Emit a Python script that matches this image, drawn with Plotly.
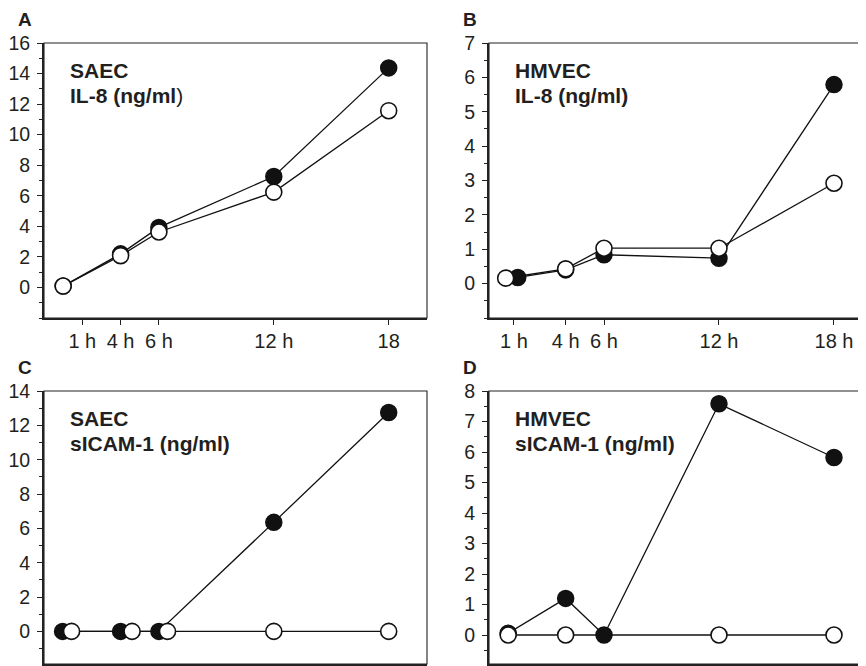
import plotly.graph_objects as go

W, H = 866, 666
OFF = 8  # page body margin offset of the figure in the browser window
FONT = "Liberation Sans, Arial, sans-serif"
TXT = "#231f20"

# ---------------- data ----------------
# Panel A: SAEC IL-8 (ng/ml)
a_x_filled = [1, 4, 6, 12, 18]
a_y_filled = [0.09, 2.2, 3.93, 7.26, 14.37]
a_x_open = [1, 4, 6, 12, 18]
a_y_open = [0.09, 2.08, 3.63, 6.24, 11.57]

# Panel B: HMVEC IL-8 (ng/ml)
b_x_filled = [1.5, 4, 6, 12, 18]
b_y_filled = [0.18, 0.40, 0.84, 0.74, 5.79]
b_x_open = [0.87, 4, 6, 12, 18]
b_y_open = [0.16, 0.43, 1.03, 1.03, 2.92]

# Panel C: SAEC sICAM-1 (ng/ml)
c_x_filled = [0.97, 4.0, 6.0, 12, 18]
c_y_filled = [0, 0, 0, 6.35, 12.75]
c_x_open = [1.44, 4.6, 6.45, 12, 18]
c_y_open = [0, 0, 0, 0, 0]

# Panel D: HMVEC sICAM-1 (ng/ml)
d_x_filled = [1, 4, 6, 12, 18]
d_y_filled = [0.06, 1.2, 0.0, 7.58, 5.82]
d_x_open = [1, 4, 6, 12, 18]
d_y_open = [0, 0, None, 0, 0]

# ticks
left_tickvals = [2, 4, 6, 12, 18]
left_ticktext = ["1 h", "4 h", "6 h", "12 h", "18"]
right_tickvals = [1.3, 4, 6, 12, 18]
right_ticktext = ["1 h", "4 h", "6 h", "12 h", "18 h"]
a_yticks = [0, 2, 4, 6, 8, 10, 12, 14, 16]
b_yticks = [0, 1, 2, 3, 4, 5, 6, 7]
c_yticks = [0, 2, 4, 6, 8, 10, 12, 14]
d_yticks = [0, 1, 2, 3, 4, 5, 6, 7, 8]

panel_letters = ["A", "B", "C", "D"]
panel_titles = [
    ("SAEC", "<b>IL-8 (ng/ml</b>)"),
    ("HMVEC", "<b>IL-8 (ng/ml)</b>"),
    ("SAEC", "<b>sICAM-1 (ng/ml)</b>"),
    ("HMVEC", "<b>sICAM-1 (ng/ml)</b>"),
]

# ---------------- layout geometry (screen pixels) ----------------
def fx(px):
    return (px - OFF) / W

def fy(py):
    return 1 - (py - OFF) / H

panels = [
    dict(x0=44, x1=427, y0=43, y1=318, xr=[0, 20], yr=[-2, 16], yt=a_yticks, mdt=1,
         tv=left_tickvals, tt=left_ticktext, lab=True,
         data=(a_x_filled, a_y_filled, a_x_open, a_y_open)),
    dict(x0=489, x1=866, y0=43, y1=318, xr=[0, 19.67], yr=[-1, 7], yt=b_yticks, mdt=0.5,
         tv=right_tickvals, tt=right_ticktext, lab=True,
         data=(b_x_filled, b_y_filled, b_x_open, b_y_open)),
    dict(x0=44, x1=427, y0=391, y1=664, xr=[0, 20], yr=[-1.9, 14], yt=c_yticks, mdt=1,
         tv=left_tickvals, tt=left_ticktext, lab=False,
         data=(c_x_filled, c_y_filled, c_x_open, c_y_open)),
    dict(x0=489, x1=866, y0=391, y1=664, xr=[0, 19.67], yr=[-0.95, 8], yt=d_yticks, mdt=0.5,
         tv=right_tickvals, tt=right_ticktext, lab=False,
         data=(d_x_filled, d_y_filled, d_x_open, d_y_open)),
]

fig = go.Figure()
annotations = []
shapes = []
layout = {}

for i, p in enumerate(panels):
    n = "" if i == 0 else str(i + 1)
    xa, ya = "x" + n, "y" + n
    xf, yf, xo, yo = p["data"]
    fig.add_trace(go.Scatter(
        x=xf, y=yf, xaxis=xa, yaxis=ya, mode="lines+markers",
        line=dict(color="#111", width=1.3),
        marker=dict(size=16, color="#111", line=dict(color="#111", width=1.5)),
        showlegend=False, cliponaxis=False))
    fig.add_trace(go.Scatter(
        x=xo, y=yo, xaxis=xa, yaxis=ya, mode="lines+markers", connectgaps=True,
        line=dict(color="#111", width=1.3),
        marker=dict(size=16, color="white", line=dict(color="#111", width=1.6)),
        showlegend=False, cliponaxis=False))

    layout["xaxis" + n] = dict(
        domain=[fx(p["x0"]), min(1.0, fx(p["x1"]))], range=p["xr"], anchor=ya,
        tickmode="array", tickvals=p["tv"], ticktext=p["tt"],
        showticklabels=p["lab"],
        ticks="outside", ticklen=5, tickwidth=1.3, tickcolor="#222",
        showline=True, linecolor="#222", linewidth=1.8, mirror=False,
        showgrid=False, zeroline=False, automargin=False,
        tickfont=dict(family=FONT, size=20, color=TXT), ticklabelstandoff=-1,
    )
    layout["yaxis" + n] = dict(
        domain=[fy(p["y1"]), fy(p["y0"])], range=p["yr"], anchor=xa,
        tickmode="array", tickvals=p["yt"],
        ticks="outside", ticklen=5, tickwidth=1.3, tickcolor="#222",
        minor=dict(tickmode="linear", dtick=p["mdt"], tick0=0, ticks="outside",
                   ticklen=3, tickwidth=1.2, tickcolor="#222", showgrid=False),
        showline=True, linecolor="#222", linewidth=1.8, mirror=False,
        showgrid=False, zeroline=False, automargin=False,
        tickfont=dict(family=FONT, size=19.5, color=TXT), ticklabelstandoff=3,
    )
    # top/right frame lines
    shapes.append(dict(type="rect", xref=xa + " domain", yref=ya + " domain",
                       x0=0, x1=1, y0=0, y1=1, line=dict(color="#222", width=1.1),
                       layer="below"))

    # panel letter
    annotations.append(dict(
        text="<b>%s</b>" % panel_letters[i], xref="paper", yref="paper",
        x=fx(p["x0"] - 28), y=fy(p["y0"] - 24), xanchor="left", yanchor="middle",
        showarrow=False, font=dict(family=FONT, size=19, color=TXT)))
    # panel titles
    t1, t2 = panel_titles[i]
    annotations.append(dict(
        text="<b>%s</b>" % t1, xref="paper", yref="paper",
        x=fx(p["x0"] + 24), y=fy(p["y0"] + 27), xanchor="left", yanchor="middle",
        showarrow=False, font=dict(family=FONT, size=21, color=TXT)))
    annotations.append(dict(
        text=t2, xref="paper", yref="paper",
        x=fx(p["x0"] + 24), y=fy(p["y0"] + 52), xanchor="left", yanchor="middle",
        showarrow=False, font=dict(family=FONT, size=21, color=TXT)))

fig.update_layout(
    width=W, height=H,
    margin=dict(l=0, r=0, t=0, b=0, pad=0),
    paper_bgcolor="white", plot_bgcolor="white",
    annotations=annotations, shapes=shapes,
    **layout,
)

fig.write_html("out.html")
